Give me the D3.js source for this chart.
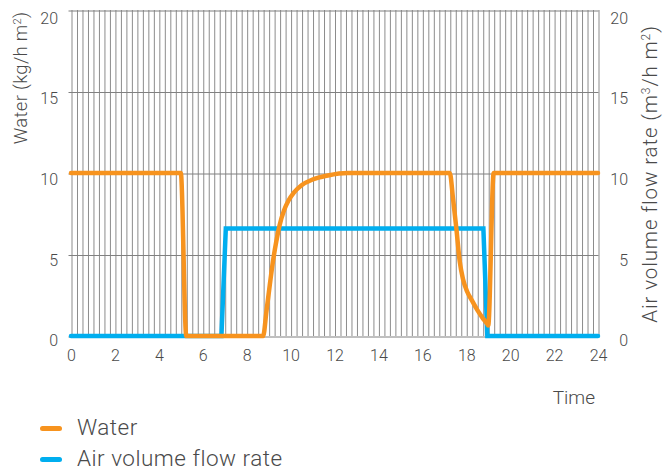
<!DOCTYPE html>
<html>
<head>
<meta charset="utf-8">
<script src="https://cdn.jsdelivr.net/npm/d3@7"></script>
<style>
  html, body { margin: 0; padding: 0; background: #fff; }
  svg { display: block; font-family: Roboto, "Liberation Sans", sans-serif; font-weight: 300; }
</style>
</head>
<body>
<svg id="chart" width="668" height="471"></svg>
<script>
// Daily profile: water supply and air volume flow over 24 hours
const waterTime  = [0, 5.0, 5.25, 8.75, 8.9, 9.05, 9.2, 9.35, 9.5, 9.7, 9.9, 10.15, 10.5, 11.0, 11.7, 12.6, 17.25, 17.4, 17.55, 17.7, 17.85, 18.05, 18.25, 18.5, 18.75, 18.95, 19.0, 19.25, 24];
const waterValue = [10, 10, 0, 0, 1.5, 3.1, 4.6, 5.8, 6.8, 7.7, 8.3, 8.8, 9.25, 9.6, 9.85, 10, 10, 8.4, 6.6, 4.6, 3.5, 2.7, 2.2, 1.6, 1.1, 0.75, 0.65, 10, 10];

const airTime  = [0, 6.85, 7.05, 18.78, 18.96, 24];
const airValue = [0, 0, 6.6, 6.6, 0, 0];

const xTicks = [0, 2, 4, 6, 8, 10, 12, 14, 16, 18, 20, 22, 24];
const yTicks = [0, 5, 10, 15, 20];
const gridStep = 0.25;

const seriesNames  = ["Water", "Air volume flow rate"];
const seriesColors = ["#F7931E", "#00AEEF"];

const svg = d3.select("#chart");
const x = d3.scaleLinear().domain([0, 24]).range([71.5, 598.5]);
const y = d3.scaleLinear().domain([0, 20]).range([336, 10]);
// tick labels sit slightly below their grid lines
const yLab = d3.scaleLinear().domain([0, 20]).range([340.5, 18]);

const textColor = "#4a4a4a";

// vertical fine grid
const gridVals = d3.range(0, 24 + 1e-9, gridStep);
svg.append("g")
  .attr("transform", `translate(0,${y(0)})`)
  .call(d3.axisBottom(x).tickValues(gridVals).tickSize(-(y(0) - y(20))).tickFormat(""))
  .call(g => g.select(".domain").remove())
  .call(g => g.selectAll("line").attr("stroke", "#8c8c8c").attr("stroke-width", 1));

// horizontal grid lines
svg.append("g")
  .attr("transform", `translate(598.5,0)`)
  .call(d3.axisLeft(y).tickValues(yTicks).tickSize(530).tickFormat(""))
  .call(g => g.select(".domain").remove())
  .call(g => g.selectAll("line").attr("stroke", "#808080").attr("stroke-width", 1)
    .attr("transform", "translate(0,0.5)"));

const styleTicks = g => g.selectAll("text").attr("fill", textColor).style("font-size", "16px")
  .style("font-family", "Roboto, sans-serif").style("font-weight", 300);

// left y tick labels
svg.append("g")
  .attr("transform", "translate(58,0)")
  .call(d3.axisLeft(yLab).tickValues(yTicks).tickSize(0).tickPadding(0))
  .call(g => g.select(".domain").remove())
  .call(styleTicks);

// right y tick labels
svg.append("g")
  .attr("transform", "translate(628,0)")
  .call(d3.axisLeft(yLab).tickValues(yTicks).tickSize(0).tickPadding(0))
  .call(g => g.select(".domain").remove())
  .call(styleTicks);

// x tick labels
svg.append("g")
  .attr("transform", "translate(-0.5,350)")
  .call(d3.axisBottom(x).tickValues(xTicks).tickSize(0).tickPadding(0).tickFormat(d3.format("d")))
  .call(g => g.select(".domain").remove())
  .call(styleTicks);

// axis titles
svg.append("text")
  .attr("transform", "translate(27,78) rotate(-90)")
  .attr("text-anchor", "middle")
  .attr("fill", textColor)
  .style("font-size", "18.5px")
  .style("letter-spacing", "0.3px")
  .call(t => {
    t.append("tspan").text("Water (kg/h m");
    t.append("tspan").attr("baseline-shift", "super").style("font-size", "11px").text("2");
    t.append("tspan").text(")");
  });

svg.append("text")
  .attr("transform", "translate(657,174) rotate(-90)")
  .attr("text-anchor", "middle")
  .attr("fill", textColor)
  .style("font-size", "20.5px")
  .style("letter-spacing", "0.9px")
  .call(t => {
    t.append("tspan").text("Air volume flow rate (m");
    t.append("tspan").attr("baseline-shift", "super").style("font-size", "12px").text("3");
    t.append("tspan").text("/h m");
    t.append("tspan").attr("baseline-shift", "super").style("font-size", "12px").text("2");
    t.append("tspan").text(")");
  });

svg.append("text")
  .attr("x", 595).attr("y", 404)
  .attr("text-anchor", "end")
  .attr("fill", textColor)
  .style("font-size", "19px")
  .text("Time");

// series lines
const airLine = d3.line()
  .x((d, i) => x(airTime[i]) - 0.5)
  .y(d => y(d));
const waterLine = d3.line()
  .x((d, i) => x(waterTime[i]) - 0.5)
  .y(d => y(d))
  .curve(d3.curveMonotoneX);

svg.append("path")
  .attr("d", airLine(airValue))
  .attr("fill", "none")
  .attr("stroke", seriesColors[1])
  .attr("stroke-width", 4.5)
  .attr("stroke-linecap", "round");

svg.append("path")
  .attr("d", waterLine(waterValue))
  .attr("fill", "none")
  .attr("stroke", seriesColors[0])
  .attr("stroke-width", 4.5)
  .attr("stroke-linecap", "round");

// legend
const legend = svg.append("g");
seriesNames.forEach((name, i) => {
  const ly = 428.5 + i * 31;
  legend.append("line")
    .attr("x1", 42.5).attr("x2", 59.5)
    .attr("y1", ly).attr("y2", ly)
    .attr("stroke", seriesColors[i])
    .attr("stroke-width", 5)
    .attr("stroke-linecap", "round");
  legend.append("text")
    .attr("x", 77).attr("y", ly + 6.5)
    .attr("fill", textColor)
    .style("font-size", "22.5px")
    .style("letter-spacing", "0.5px")
    .text(name);
});
</script>
</body>
</html>
